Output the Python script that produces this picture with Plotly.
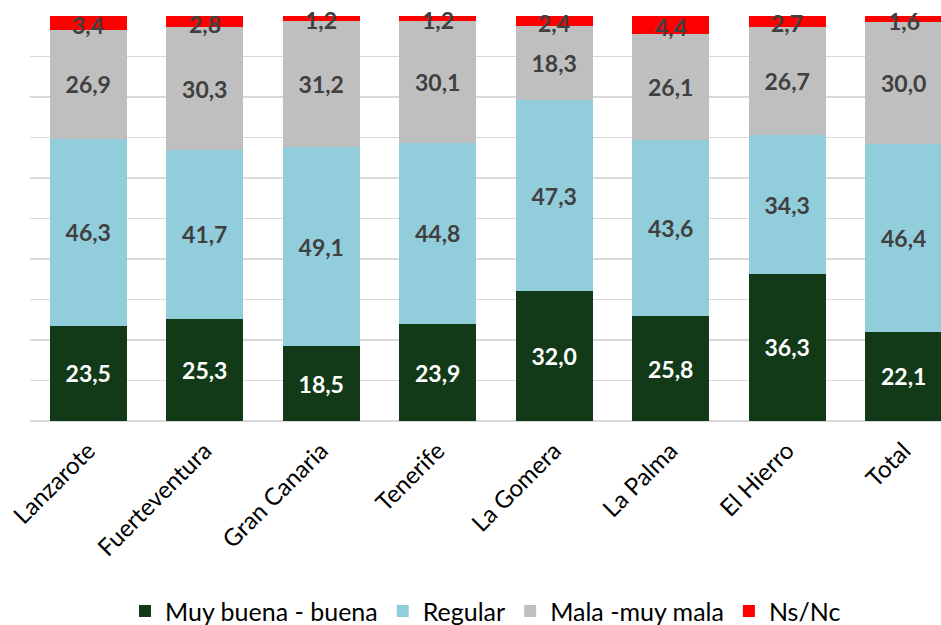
import plotly.graph_objects as go

categories = ["Lanzarote", "Fuerteventura", "Gran Canaria", "Tenerife",
              "La Gomera", "La Palma", "El Hierro", "Total"]
muy_buena = [23.5, 25.3, 18.5, 23.9, 32.0, 25.8, 36.3, 22.1]
regular = [46.3, 41.7, 49.1, 44.8, 47.3, 43.6, 34.3, 46.4]
mala = [26.9, 30.3, 31.2, 30.1, 18.3, 26.1, 26.7, 30.0]
nsnc = [3.4, 2.8, 1.2, 1.2, 2.4, 4.4, 2.7, 1.6]

series = [
    ("Muy buena - buena", muy_buena, "#133A18", "#FFFFFF"),
    ("Regular", regular, "#92CDDC", "#404040"),
    ("Mala -muy mala", mala, "#BFBFBF", "#404040"),
    ("Ns/Nc", nsnc, "#FF0000", "#404040"),
]

FONT = "Lato"
LABEL_SIZE = 23

def fmt(v):
    return f"{v:.1f}".replace(".", ",")

fig = go.Figure()
for i, (name, vals, color, tcolor) in enumerate(series):
    inside = i < 3
    fig.add_trace(go.Bar(
        x=categories, y=vals, name=name,
        marker=dict(color=color, line=dict(width=0)),
        text=[fmt(v) for v in vals] if inside else None,
        textposition="inside" if inside else "none",
        insidetextanchor="middle",
        constraintext="none",
        textangle=0,
        textfont=dict(family=FONT, size=LABEL_SIZE, color=tcolor, weight="bold"),
        cliponaxis=False,
        width=0.66,
        hoverinfo="skip",
    ))

# labels for the thin Ns/Nc segments, centred on each segment
for k, cat in enumerate(categories):
    total = muy_buena[k] + regular[k] + mala[k] + nsnc[k]
    base = (muy_buena[k] + regular[k] + mala[k]) / total * 100
    mid = base + nsnc[k] / total * 100 / 2
    fig.add_annotation(
        x=cat, y=mid, xref="x", yref="y", text=fmt(nsnc[k]), showarrow=False,
        font=dict(family=FONT, size=LABEL_SIZE, color="#404040", weight="bold"),
        yshift=-2,
    )

fig.update_layout(
    barmode="stack",
    barnorm="percent",
    width=941, height=625,
    margin=dict(l=30, r=0, t=16, b=204, autoexpand=False),
    plot_bgcolor="white", paper_bgcolor="white",
    font=dict(family=FONT, color="#000000"),
    legend=dict(
        orientation="h", x=0.50, xanchor="center", y=-0.47, yanchor="middle",
        font=dict(family=FONT, size=25, color="#000000"),
        traceorder="normal", itemwidth=30,
    ),
    xaxis=dict(
        range=[-0.5, 7.32], tickangle=-45, showgrid=False,
        tickfont=dict(family=FONT, size=24, color="#000000"),
        showline=False, ticks="", automargin=False, ticklabelstandoff=10,
    ),
    yaxis=dict(
        range=[0, 100], dtick=10, showticklabels=False,
        gridcolor="#D9D9D9", gridwidth=1.5,
        zeroline=True, zerolinecolor="#D9D9D9", zerolinewidth=1.5,
        ticks="", automargin=False,
    ),
)

fig.write_html(
    "out.html",
    config={"displayModeBar": False, "staticPlot": True},
    post_script="document.body.style.margin='0';document.body.style.overflow='hidden';",
)
